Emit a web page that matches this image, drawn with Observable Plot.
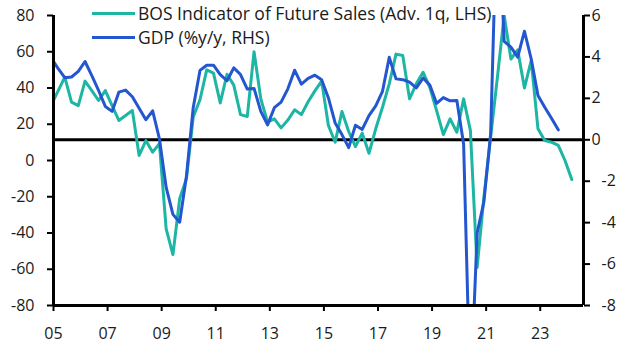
<!DOCTYPE html>
<html><head><meta charset="utf-8">
<script src="https://cdn.jsdelivr.net/npm/d3@7"></script>
<script src="https://cdn.jsdelivr.net/npm/@observablehq/plot@0.6"></script>
<style>
body{margin:0;background:#fff;}
#chart{position:relative;width:629px;height:354px;font-family:"Open Sans",sans-serif;color:#1a1a1a;}
.leg{position:absolute;left:92px;font-size:17.5px;line-height:20px;display:flex;align-items:center;white-space:nowrap;}
.leg .sw{display:inline-block;width:43px;height:3px;margin-right:3px;}
</style></head><body><div id="chart"></div>
<script>
// Quarterly series, first observation 2004Q4 (partly outside the axis)
const firstYear = 2004, firstQuarterIndex = 3; // Q4
const bosFutureSales = [30.7, 38.3, 46.0, 32.2, 30.3, 43.8, 38.6, 33.1, 38.6, 30.3, 22.1, 24.8, 27.6, 2.8, 11.0, 4.6, 9.3,
  -37.7, -51.9, -21.0, -10.0, 24.0, 33.5, 50.0, 48.2, 31.8, 47.6, 41.6, 25.3, 24.3, 60.0, 34.0, 21.1, 23.0, 18.0, 22.3,
  28.0, 25.3, 32.4, 38.4, 43.8, 19.3, 10.1, 27.0, 16.0, 7.7, 15.1, 4.0, 17.5, 29.4, 42.3, 58.7, 57.9, 34.0, 42.3, 48.7,
  40.4, 27.6, 14.3, 23.0, 15.6, 34.0, 16.6, -59.0, -20.2, 12.9, 46.0, 80.0, 56.0, 61.0, 40.0, 55.2, 17.5, 11.0, 10.1,
  8.3, 0.0, -10.5];
const gdpYoY = [3.95, 3.45, 3.0, 3.03, 3.30, 3.78, 3.10, 2.38, 1.61, 1.37, 2.30, 2.40, 2.08, 1.52, 0.97, 1.40, 0.05,
  -2.3, -3.6, -3.98, -1.75, 1.55, 3.35, 3.6, 3.6, 3.15, 2.85, 3.47, 3.15, 2.45, 2.48, 1.37, 0.72, 1.55, 1.82, 2.46,
  3.36, 2.69, 2.97, 3.12, 2.90, 2.02, 0.81, 0.25, -0.38, 0.70, 0.50, 1.17, 1.64, 2.34, 3.98, 2.94, 2.90, 2.78, 2.51,
  2.98, 2.64, 1.76, 2.04, 1.88, 1.90, -0.2, -12.6, -4.5, -3.0, 0.3, 12.0, 4.75, 4.47, 3.99, 5.24, 3.9, 2.14, 1.57,
  1.04, 0.48];
const xTicks = [2005, 2007, 2009, 2011, 2013, 2015, 2017, 2019, 2021, 2023];
const leftTicks = [-80, -60, -40, -20, 0, 20, 40, 60, 80];
const rightTicks = [-8, -6, -4, -2, 0, 2, 4, 6];
const seriesNames = ["BOS Indicator of Future Sales (Adv. 1q, LHS)", "GDP (%y/y, RHS)"];
const colors = ["#1db5a4", "#2356cf"];

const xMax = 2024.6;
const L = [-80, 80], R = [-8, 6];
const r2l = g => (g - R[0]) / (R[1] - R[0]) * (L[1] - L[0]) + L[0];
const l2r = d => Math.round((d - L[0]) / (L[1] - L[0]) * (R[1] - R[0]) + R[0]);
// quarter date placed at the 1st of the quarter's last month
const qDate = i => firstYear + (firstQuarterIndex * 3 + 2) / 12 + i * 0.25;

const bos = bosFutureSales.map((v, i) => ({t: qDate(i), v}));
const gdp = gdpYoY.map((v, i) => ({t: qDate(i), v: r2l(v)}));

const yr = d => String(d % 100).padStart(2, "0");
const plot = Plot.plot({
  width: 629, height: 354,
  marginLeft: 53, marginRight: 46, marginTop: 15, marginBottom: 49,
  x: {domain: [2005, xMax]},
  y: {domain: L},
  style: {fontFamily: "'Open Sans', sans-serif", fontSize: "16px", color: "#1a1a1a", background: "#fff"},
  marks: [
    Plot.ruleY([r2l(0)], {stroke: "#000", strokeWidth: 3}),
    Plot.line(bos, {x: "t", y: "v", stroke: colors[0], strokeWidth: 3, clip: true}),
    Plot.line(gdp, {x: "t", y: "v", stroke: colors[1], strokeWidth: 3, clip: true}),
    Plot.axisY(leftTicks, {anchor: "left", tickSize: 6, tickPadding: 13, strokeWidth: 2, stroke: "#000", tickFormat: d => String(d), label: null}),
    Plot.axisY(rightTicks.filter(d => d >= 0).map(r2l), {anchor: "right", tickSize: 6, tickPadding: 2, strokeWidth: 2, stroke: "#000", tickFormat: d => String(l2r(d)), label: null}),
    Plot.axisY(rightTicks.filter(d => d < 0).map(r2l), {anchor: "right", tickSize: 6, tickPadding: 12, strokeWidth: 2, stroke: "#000", tickFormat: d => String(l2r(d)), label: null}),
    Plot.axisX(xTicks, {anchor: "bottom", tickSize: 6, tickPadding: 16, strokeWidth: 2, stroke: "#000", tickFormat: yr, label: null}),
    Plot.ruleX([2005, xMax], {stroke: "#000", strokeWidth: 3}),
    Plot.ruleY([L[0]], {stroke: "#000", strokeWidth: 3})
  ]
});
const chart = document.getElementById("chart");
chart.appendChild(plot);
seriesNames.forEach((name, i) => {
  const d = document.createElement("div");
  d.className = "leg";
  d.style.top = (3 + i * 24) + "px";
  d.innerHTML = `<span class="sw" style="background:${colors[i]}"></span><span>${name}</span>`;
  chart.appendChild(d);
});
</script>
</body></html>
